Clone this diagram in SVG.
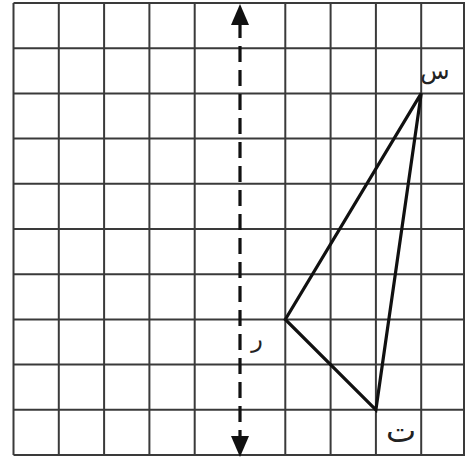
<svg xmlns="http://www.w3.org/2000/svg" width="465" height="462" viewBox="0 0 465 462">
<style>
.grid line{stroke:#3a3a3a;stroke-width:2}
.tri{fill:none;stroke:#111;stroke-width:3.2;stroke-linejoin:miter}
.axis{stroke:#111;stroke-width:3.2;stroke-dasharray:16 8}
.head{fill:#111}
.lbl{font-family:"DejaVu Sans","Noto Sans",sans-serif;font-size:24px;fill:#222}
</style>
<rect width="465" height="462" fill="#fff"/>
<g id="grid" class="grid">
<line x1="13.5" y1="3" x2="13.5" y2="455"/>
<line x1="58.8" y1="3" x2="58.8" y2="455"/>
<line x1="104.1" y1="3" x2="104.1" y2="455"/>
<line x1="149.4" y1="3" x2="149.4" y2="455"/>
<line x1="194.7" y1="3" x2="194.7" y2="455"/>
<line x1="285.3" y1="3" x2="285.3" y2="455"/>
<line x1="330.6" y1="3" x2="330.6" y2="455"/>
<line x1="375.9" y1="3" x2="375.9" y2="455"/>
<line x1="421.2" y1="3" x2="421.2" y2="455"/>
<line x1="464" y1="3" x2="464" y2="455"/>
<line x1="13.5" y1="3" x2="465" y2="3"/>
<line x1="13.5" y1="48.2" x2="465" y2="48.2"/>
<line x1="13.5" y1="93.4" x2="465" y2="93.4"/>
<line x1="13.5" y1="138.6" x2="465" y2="138.6"/>
<line x1="13.5" y1="183.8" x2="465" y2="183.8"/>
<line x1="13.5" y1="229" x2="465" y2="229"/>
<line x1="13.5" y1="274.2" x2="465" y2="274.2"/>
<line x1="13.5" y1="319.4" x2="465" y2="319.4"/>
<line x1="13.5" y1="364.6" x2="465" y2="364.6"/>
<line x1="13.5" y1="409.8" x2="465" y2="409.8"/>
<line x1="13.5" y1="455" x2="465" y2="455"/>
</g>
<g id="connectors">
<line class="axis" x1="240" y1="22" x2="240" y2="438"/>
<polygon class="head" points="240,4 231,25 249,25"/>
<polygon class="head" points="240,457 231,436 249,436"/>
<polygon id="triangle" class="tri" points="421.2,93.4 285.3,319.4 375.9,409.8"/>
</g>
<g id="node-seen"><text class="lbl" x="435" y="79" text-anchor="middle">س</text></g>
<g id="node-ra"><text class="lbl" x="257" y="347" text-anchor="middle">ر</text></g>
<g id="node-ta"><text class="lbl" x="401" y="442" text-anchor="middle" style="font-size:32px">ت</text></g>
</svg>
